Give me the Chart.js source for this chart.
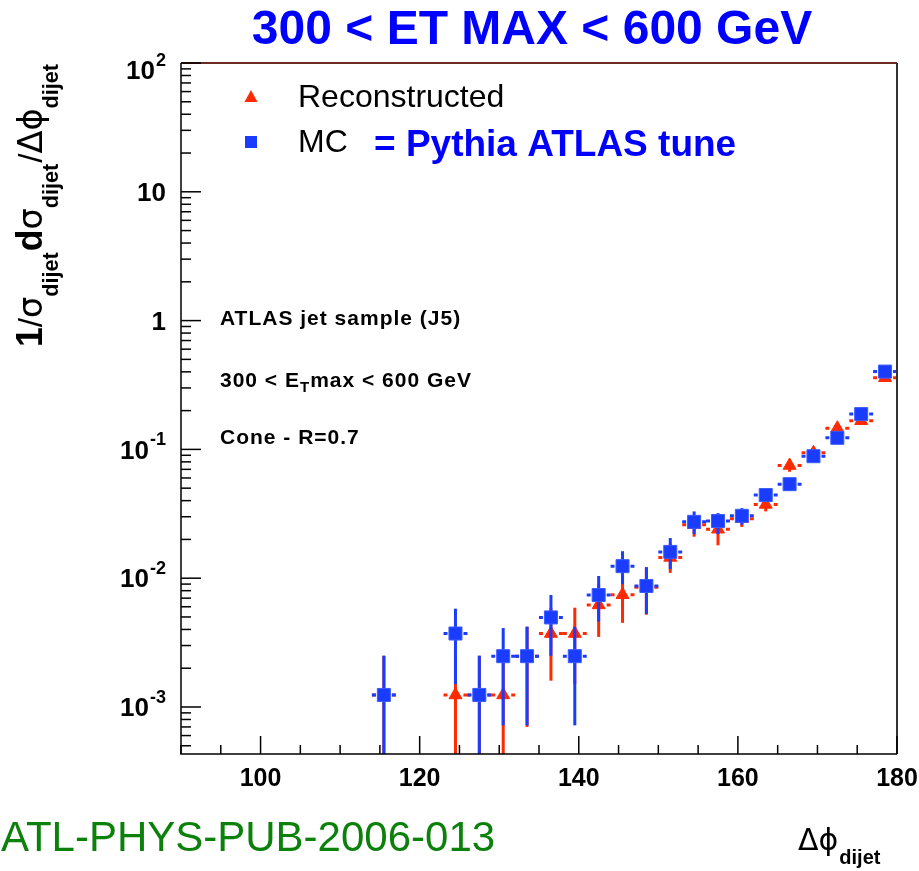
<!DOCTYPE html>
<html><head><meta charset="utf-8">
<script src="https://cdn.jsdelivr.net/npm/chart.js@4.4.0/dist/chart.umd.min.js"></script>
<style>html,body{margin:0;padding:0;background:#fff;}canvas{display:block;}</style>
</head><body>
<canvas id="c" width="919" height="871"></canvas>
<script>
// ---- data ----
const dphi = [115.5,124.5,127.5,130.5,133.5,136.5,139.5,142.5,145.5,148.5,151.5,154.5,157.5,160.5,163.5,166.5,169.5,172.5,175.5,178.5];
const mcValue = [0.00124,0.00372,0.00124,0.00248,0.00248,0.00496,0.00248,0.0074,0.0124,0.0087,0.016,0.0274,0.0278,0.0305,0.0442,0.0537,0.0885,0.123,0.188,0.402];
const mcLow   = [0,0.0015,0,0.00072,0.00072,0.0025,0.00072,0.0046,0.009,0.0053,0.0118,0.022,0.022,0.026,0.039,0.048,0.082,0.114,0.178,0.39];
const mcHigh  = [0.0025,0.0058,0.0025,0.0041,0.0042,0.0074,0.0042,0.0104,0.0162,0.0122,0.0205,0.033,0.032,0.035,0.05,0.059,0.095,0.132,0.198,0.415];
const recoValue = [0.00124,0.00124,0.00124,0.00124,0.00248,0.00372,0.00372,0.0062,0.00744,0.0085,0.0145,0.026,0.024,0.029,0.0374,0.075,0.094,0.146,0.167,0.36];
const recoLow   = [0,0,0,0,0.0007,0.0016,0.0015,0.0035,0.0045,0.0052,0.011,0.021,0.018,0.025,0.033,0.067,0.087,0.137,0.158,0.345];
const recoHigh  = [0.0025,0.0025,0.0025,0.0025,0.0042,0.0059,0.0059,0.009,0.0105,0.012,0.0185,0.031,0.029,0.033,0.042,0.082,0.101,0.155,0.177,0.375];
const binHalfWidth = 1.5;
const xTickLabels = [100,120,140,160,180];
const yTickExponents = [-3,-2,-1,0,1,2];
const titleText = "300 < ET MAX < 600 GeV";
const footerText = "ATL-PHYS-PUB-2006-013";
const legendReco = "Reconstructed";
const legendMC = "MC";
const legendNote = "= Pythia ATLAS tune";

function pts(vals, lo, hi){ return dphi.map((x,i)=>({x:x, y:vals[i], lo:lo[i], hi:hi[i]})); }

const SANS = '"Liberation Sans", Arial, Helvetica, sans-serif';
const GREEK = '"DejaVu Sans", "Liberation Sans", sans-serif';
const SERIF = '"Liberation Serif", "DejaVu Serif", serif';
const BLUE = '#1a3cff', RED = '#ff2a00';

const errorBars = {
  id:'errorBars',
  beforeDatasetDraw(chart, args){
    const ds = chart.data.datasets[args.index];
    const {ctx, chartArea:a, scales:{x,y}} = chart;
    ctx.save();
    ctx.beginPath(); ctx.rect(a.left, a.top, a.right-a.left, a.bottom-a.top); ctx.clip();
    ctx.strokeStyle = ds.errColor; ctx.lineWidth = 3; ctx.lineCap = 'butt';
    ds.data.forEach(p=>{
      const px = x.getPixelForValue(p.x), py = y.getPixelForValue(p.y);
      const top = y.getPixelForValue(p.hi);
      const bot = p.lo > 0 ? y.getPixelForValue(p.lo) : a.bottom + 5;
      ctx.beginPath(); ctx.moveTo(px, top); ctx.lineTo(px, bot); ctx.stroke();
      const xl = x.getPixelForValue(p.x - binHalfWidth), xr = x.getPixelForValue(p.x + binHalfWidth);
      ctx.beginPath();
      ctx.moveTo(xl, py); ctx.lineTo(px - 8, py);
      ctx.moveTo(px + 8, py); ctx.lineTo(xr, py);
      ctx.stroke();
    });
    ctx.restore();
  }
};

function drawSupLabel(ctx, base, exp, rightX, cy){
  ctx.font = 'bold 26px ' + SANS;
  const wb = ctx.measureText(base).width;
  let we = 0;
  if (exp !== null){ ctx.font = 'bold 18px ' + SANS; we = ctx.measureText(exp).width + 1; }
  const x0 = rightX - wb - we;
  ctx.textBaseline = 'middle'; ctx.textAlign = 'left';
  ctx.font = 'bold 26px ' + SANS; ctx.fillText(base, x0, cy);
  if (exp !== null){ ctx.font = 'bold 18px ' + SANS; ctx.fillText(exp, x0 + wb + 1, cy - 11); }
}

const decor = {
  id:'decor',
  afterDraw(chart){
    const {ctx, chartArea:a, scales:{x,y}} = chart;
    ctx.save();
    // frame
    ctx.lineWidth = 1.5; ctx.strokeStyle = '#000';
    ctx.beginPath(); ctx.moveTo(a.left, a.top); ctx.lineTo(a.left, a.bottom); ctx.lineTo(a.right, a.bottom); ctx.stroke();
    ctx.lineWidth = 2; ctx.strokeStyle = '#6b2a22';
    ctx.beginPath(); ctx.moveTo(a.left, a.top); ctx.lineTo(a.right, a.top); ctx.stroke();
    ctx.strokeStyle = '#333';
    ctx.beginPath(); ctx.moveTo(a.right, a.top); ctx.lineTo(a.right, a.bottom); ctx.stroke();
    // x ticks
    ctx.lineWidth = 1.5; ctx.strokeStyle = '#000';
    for (let v = 90; v <= 180; v += 5){
      const px = x.getPixelForValue(v);
      const len = ((v - 100) % 20 === 0) ? 18 : 9;
      ctx.beginPath(); ctx.moveTo(px, a.bottom); ctx.lineTo(px, a.bottom - len); ctx.stroke();
    }
    // y ticks
    for (let d = -4; d <= 2; d++){
      for (let m = 1; m <= 9; m++){
        const v = m * Math.pow(10, d);
        if (v < y.min || v > y.max * 1.0001) continue;
        const py = y.getPixelForValue(v);
        const len = m === 1 ? 20 : 10;
        ctx.beginPath(); ctx.moveTo(a.left, py); ctx.lineTo(a.left + len, py); ctx.stroke();
      }
    }
    // x tick labels
    ctx.fillStyle = '#000'; ctx.font = 'bold 25px ' + SANS; ctx.textAlign = 'center'; ctx.textBaseline = 'middle';
    xTickLabels.forEach(v=>{ ctx.fillText(String(v), x.getPixelForValue(v), a.bottom + 25); });
    // y tick labels
    yTickExponents.forEach(e=>{
      const py = y.getPixelForValue(Math.pow(10, e));
      const cy = e === 2 ? py + 9 : py + 2;
      if (e === 0) drawSupLabel(ctx, '1', null, 166, cy);
      else if (e === 1) drawSupLabel(ctx, '10', null, 166, cy);
      else drawSupLabel(ctx, '10', e < 0 ? '-' + (-e) : String(e), 166, cy);
    });
    // y axis title (rotated)
    ctx.save();
    ctx.translate(42, 347); ctx.rotate(-Math.PI/2);
    ctx.textAlign = 'left'; ctx.textBaseline = 'alphabetic';
    const MAIN = 'bold 36px ' + SANS, GR = '34px ' + GREEK, SL = '34px ' + SANS, SUB = 'bold 22px ' + SANS;
    const pieces = [
      ['1', MAIN, 0], ['/', SL, 0], ['σ', GR, 0], ['dijet', SUB, 16],
      ['d', MAIN, 0], ['σ', GR, 0], ['dijet', SUB, 16],
      ['/', SL, 0], ['Δϕ', GR, 0], ['dijet', SUB, 16]
    ];
    let tw = 0;
    pieces.forEach(p=>{ ctx.font = p[1]; tw += ctx.measureText(p[0]).width + (p[2] ? 1 : 0); });
    ctx.scale(284 / tw, 1);
    let tx = 0;
    pieces.forEach(p=>{ ctx.font = p[1]; ctx.fillText(p[0], tx, p[2]); tx += ctx.measureText(p[0]).width + (p[2] ? 1 : 0); });
    ctx.restore();
    // x axis title
    ctx.textAlign = 'left'; ctx.textBaseline = 'alphabetic';
    ctx.font = '30px ' + GREEK; ctx.fillText('Δϕ', 798, 850);
    const wphi = ctx.measureText('Δϕ').width;
    ctx.font = 'bold 20px ' + SANS; ctx.fillText('dijet', 798 + wphi + 1, 864);
    // title
    ctx.fillStyle = '#0000ff'; ctx.font = 'bold 48px ' + SANS; ctx.textAlign = 'center'; ctx.textBaseline = 'middle';
    ctx.fillText(titleText, 532, 31);
    // footer
    ctx.fillStyle = '#0b800b'; ctx.font = '42px ' + SANS; ctx.textAlign = 'left';
    ctx.fillText(footerText, 1, 839);
    // legend
    ctx.fillStyle = RED;
    ctx.beginPath(); ctx.moveTo(251, 90); ctx.lineTo(257.5, 102); ctx.lineTo(244.5, 102); ctx.closePath(); ctx.fill();
    ctx.fillStyle = BLUE; ctx.fillRect(245, 136, 12, 12);
    ctx.fillStyle = '#000'; ctx.font = '32px ' + SANS; ctx.textAlign = 'left'; ctx.textBaseline = 'middle';
    ctx.fillText(legendReco, 298, 98);
    ctx.fillText(legendMC, 298, 143);
    ctx.fillStyle = '#0000ff'; ctx.font = 'bold 37px ' + SANS;
    ctx.fillText(legendNote, 374, 146);
    // annotations
    ctx.fillStyle = '#000'; ctx.font = 'bold 21px ' + SANS;
    ctx.letterSpacing = '1px';
    ctx.fillText('ATLAS jet sample (J5)', 220, 319);
    let ax = 220;
    const seg = (t, f, dy)=>{ ctx.font = f; ctx.fillText(t, ax, 381 + dy); ax += ctx.measureText(t).width; };
    seg('300 < E', 'bold 21px ' + SANS, 0);
    seg('T', 'bold 15px ' + SANS, 7);
    seg('max < 600 GeV', 'bold 21px ' + SANS, 0);
    ctx.font = 'bold 21px ' + SANS;
    ctx.fillText('Cone - R=0.7', 220, 438);
    ctx.letterSpacing = '0px';
    ctx.restore();
  }
};

new Chart(document.getElementById('c'), {
  type:'scatter',
  data:{ datasets:[
    { label:'MC', data: pts(mcValue, mcLow, mcHigh), pointStyle:'rect', pointRadius:9.2, pointHoverRadius:9.2,
      backgroundColor: BLUE, borderColor:'#3a5cff', borderWidth:1, errColor: BLUE, showLine:false },
    { label:'Reconstructed', data: pts(recoValue, recoLow, recoHigh), pointStyle:'triangle', pointRadius:7.5, pointHoverRadius:7.5,
      backgroundColor: RED, borderColor: RED, borderWidth:1, errColor: RED, showLine:false }
  ]},
  options:{
    responsive:false, animation:false, devicePixelRatio:1,
    layout:{ padding:{ left:181, top:63, right:22, bottom:117 } },
    plugins:{ legend:{display:false}, tooltip:{enabled:false}, title:{display:false} },
    scales:{
      x:{ type:'linear', min:90, max:180, display:false },
      y:{ type:'logarithmic', min:Math.pow(10,-3.365), max:100, display:false }
    }
  },
  plugins:[errorBars, decor]
});
</script>
</body></html>
